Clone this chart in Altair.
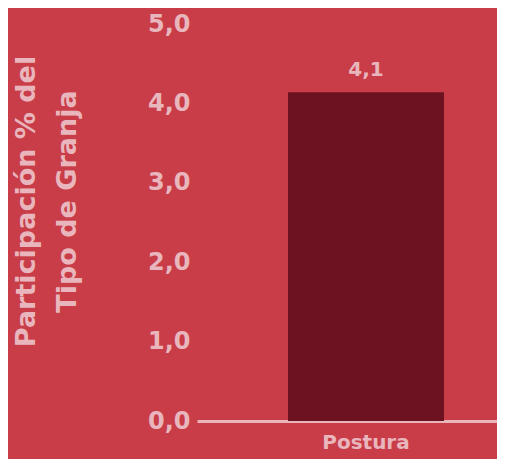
import altair as alt
import pandas as pd

categories = ["Postura"]
values = [4.14]
y_ticks = [0, 1, 2, 3, 4, 5]

BG = "#C93D49"
BAR = "#6C1221"
TXT = "#E8B6BC"
FONT = "DejaVu Sans"

df = pd.DataFrame({"tipo": categories, "valor": values})
df["etiqueta"] = [f"{v:.1f}".replace(".", ",") for v in values]

base = alt.Chart(df)

bars = base.mark_bar(color=BAR).encode(
    x=alt.X(
        "tipo:N",
        title=None,
        scale=alt.Scale(paddingInner=0, paddingOuter=0.4615, align=0.632),
        axis=alt.Axis(
            labelAngle=0,
            labelFont=FONT,
            labelFontSize=20,
            labelFontWeight="bold",
            labelColor=TXT,
            labelPadding=11,
            domainColor=TXT,
            domainWidth=3,
            ticks=False,
            grid=False,
        ),
    ),
    y=alt.Y(
        "valor:Q",
        scale=alt.Scale(domain=[0, 5], nice=False),
        title=["Participación % del", "Tipo de Granja"],
        axis=alt.Axis(
            values=y_ticks,
            labelExpr="replace(format(datum.value, '.1f'), '.', ',')",
            labelFont=FONT,
            labelFontSize=24,
            labelFontWeight="bold",
            labelColor=TXT,
            labelPadding=7,
            domain=False,
            ticks=False,
            grid=False,
            titleFont=FONT,
            titleFontSize=27,
            titleFontWeight="bold",
            titleColor=TXT,
            titleLineHeight=41,
            titleAngle=270,
            titleAlign="center",
            titleBaseline="middle",
            titleX=-171,
            titleY=177,
        ),
    ),
)

labels = base.mark_text(
    font=FONT, fontSize=20, fontWeight="bold", color=TXT, baseline="bottom", dy=-12
).encode(x="tipo:N", y="valor:Q", text="etiqueta:N")

chart = (
    (bars + labels)
    .properties(
        width=300,
        height=397,
        background=BG,
        padding={"left": 189, "top": 16, "right": 0, "bottom": 38},
        autosize=alt.AutoSizeParams(type="none"),
    )
    .configure_view(stroke=None)
)

chart.save("out.html", embed_options={"renderer": "svg", "actions": False})
